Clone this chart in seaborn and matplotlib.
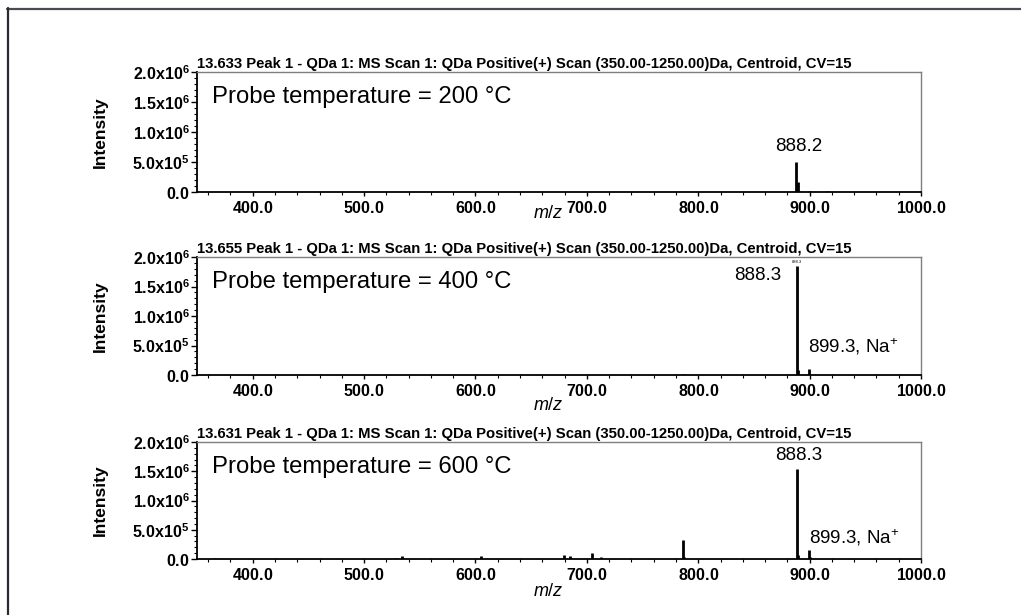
import numpy as np
import matplotlib
matplotlib.use("Agg")
import matplotlib.pyplot as plt
from matplotlib.ticker import MultipleLocator, FuncFormatter
from matplotlib.lines import Line2D
import seaborn as sns

# ---- spectra (m/z, intensity) ----
mz_200 = [888.2, 889.2, 890.2, 900.2, 916.0]
int_200 = [5.05e5, 1.7e5, 0.2e5, 0.15e5, 0.15e5]

mz_400 = [786.0, 888.3, 889.3, 890.3, 899.3, 900.3]
int_400 = [0.12e5, 1.85e6, 0.85e5, 0.25e5, 1.0e5, 0.2e5]

mz_600 = [366.0, 528.2, 534.2, 605.0, 679.5, 684.5, 704.8, 713.0,
          786.3, 787.3, 888.3, 889.3, 899.3, 900.3]
int_600 = [0.15e5, 0.2e5, 0.5e5, 0.5e5, 0.7e5, 0.5e5, 1.0e5, 0.3e5,
           3.2e5, 0.3e5, 1.54e6, 0.6e5, 1.5e5, 0.3e5]

scan_times = ["13.633", "13.655", "13.631"]
probe_temps = ["200", "400", "600"]

sns.set_theme(style="ticks")
plt.rcParams['font.family'] = ['Liberation Sans', 'DejaVu Sans']
plt.rcParams['mathtext.fontset'] = 'custom'
plt.rcParams['mathtext.rm'] = 'Liberation Sans'
plt.rcParams['mathtext.it'] = 'Liberation Sans:italic'
plt.rcParams['mathtext.bf'] = 'Liberation Sans:bold'
plt.rcParams['text.color'] = 'black'
plt.rcParams['axes.labelcolor'] = 'black'
plt.rcParams['xtick.color'] = 'black'
plt.rcParams['ytick.color'] = 'black'

W, H = 1021, 615
fig = plt.figure(figsize=(W / 100, H / 100), dpi=100)

# frame lines around the figure
fig.add_artist(Line2D([7 / W, 1], [1 - 8.5 / H, 1 - 8.5 / H], color='#4a4a55', lw=1.6))
fig.add_artist(Line2D([7.5 / W, 7.5 / W], [0, 1 - 8 / H], color='#2a2a33', lw=1.6))

# axes boxes in pixel units: (top, bottom)
boxes = [(72, 192), (257, 375), (442, 559)]
mz_label_y = [214, 405, 592]
left_px, right_px = 197, 921


def ytick_fmt(v, pos):
    if v < 1:
        return r"$\mathbf{0.0}$" if abs(v) < 1 else ""
    e = int(np.floor(np.log10(v) + 1e-9))
    m = v / 10 ** e
    return r"$\mathbf{%.1fx10^{%d}}$" % (m, e)


def xtick_fmt(v, pos):
    return r"$\mathbf{%.1f}$" % v


spectra = [(mz_200, int_200), (mz_400, int_400), (mz_600, int_600)]
axes = []
for i, ((top, bot), (mz, inten)) in enumerate(zip(boxes, spectra)):
    ax = fig.add_axes([left_px / W, 1 - bot / H, (right_px - left_px) / W, (bot - top) / H])
    axes.append(ax)
    ax.vlines(mz, 0, inten, color='black', lw=2.0)
    ax.set_xlim(350, 1000)
    ax.set_ylim(0, 2.0e6)

    ax.yaxis.set_major_locator(MultipleLocator(5e5))
    ax.yaxis.set_minor_locator(MultipleLocator(1e5))
    ax.xaxis.set_major_locator(MultipleLocator(100))
    ax.xaxis.set_minor_locator(MultipleLocator(20))
    ax.yaxis.set_major_formatter(FuncFormatter(ytick_fmt))
    ax.xaxis.set_major_formatter(FuncFormatter(xtick_fmt))
    ax.tick_params(axis='y', which='major', length=4.5, width=1, labelsize=11.5, pad=1)
    ax.tick_params(axis='y', which='minor', length=2, width=0.8)
    ax.tick_params(axis='x', which='major', length=3, width=1, labelsize=11.5, pad=3)
    ax.tick_params(axis='x', which='minor', length=2, width=0.8)

    for s in ('left', 'bottom'):
        ax.spines[s].set_color('black')
        ax.spines[s].set_linewidth(1.3)
    for s in ('top', 'right'):
        ax.spines[s].set_visible(True)
        ax.spines[s].set_color('#7f7f7f')
        ax.spines[s].set_linewidth(1.0)

    ax.set_ylabel("Intensity", fontsize=12.5, fontweight='bold')
    ax.yaxis.set_label_coords(-89 / (right_px - left_px), 0.5)

    ax.text(0.0, 1.005, f"{scan_times[i]} Peak 1 - QDa 1: MS Scan 1: QDa Positive(+) "
            f"Scan (350.00-1250.00)Da, Centroid, CV=15",
            transform=ax.transAxes, ha='left', va='bottom', fontsize=10.7, fontweight='bold')
    ax.text(0.021, 0.79, f"Probe temperature = {probe_temps[i]} \u00b0C",
            transform=ax.transAxes, ha='left', va='center', fontsize=17.2)

    fig.text(548 / W, 1 - mz_label_y[i] / H, r"$\mathit{m/z}$", ha='center', va='center',
             fontsize=13)

# peak annotations
a1, a2, a3 = axes
a1.text(mz_200[0] + 2, int_200[0] + 1.1e5, "888.2", ha='center', va='bottom', fontsize=13.5)
a2.text(mz_400[1] - 14, 1.69e6, "888.3", ha='right', va='center', fontsize=13.5)
a2.text(mz_400[1], int_400[1] + 0.03e6, "888.3", ha='center', va='bottom', fontsize=3)
a2.text(mz_400[4] - 0.5, 0.48e6, r"899.3, Na$^{+}$", ha='left', va='center', fontsize=13.5)
a3.text(mz_600[10] + 2, int_600[10] + 0.08e6, "888.3", ha='center', va='bottom', fontsize=13.5)
a3.text(mz_600[12] + 0.5, 0.36e6, r"899.3, Na$^{+}$", ha='left', va='center', fontsize=13.5)

fig.savefig("out.png", dpi=100)
